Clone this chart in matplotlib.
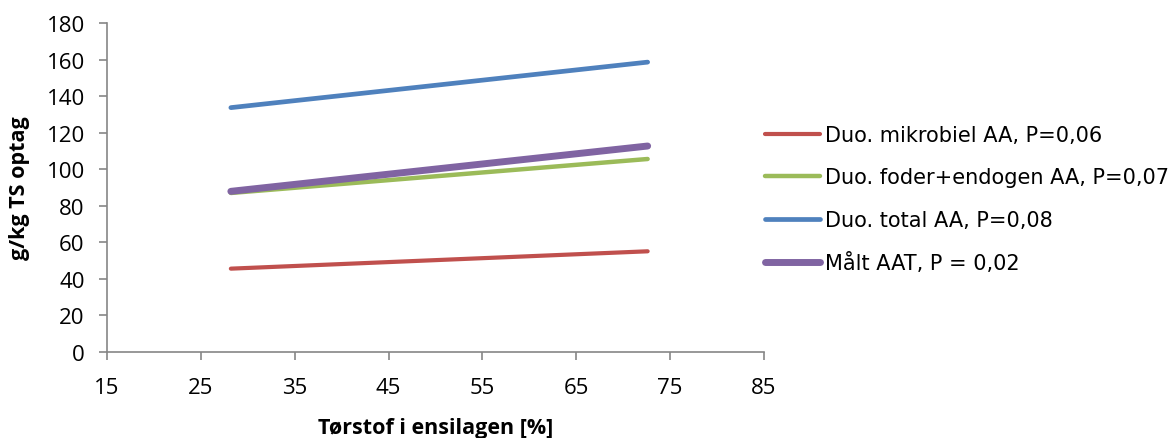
import matplotlib.pyplot as plt

plt.rcParams['font.family'] = ['Open Sans', 'DejaVu Sans']

# x endpoints of the regression lines
x = [28.2, 72.6]
mikrobiel = [45.6, 55.1]
foder_endogen = [87.0, 105.6]
total = [133.7, 158.6]
maalt_aat = [87.9, 112.7]

labels = ['Duo. mikrobiel AA, P=0,06',
          'Duo. foder+endogen AA, P=0,07',
          'Duo. total AA, P=0,08',
          'Målt AAT, P = 0,02']

fig = plt.figure(figsize=(11.74, 4.39), dpi=100)
ax = fig.add_axes([0.0911, 0.1959, 0.5597, 0.7494])

ax.plot(x, mikrobiel, color='#C0504D', lw=3.0, solid_capstyle='round', label=labels[0])
ax.plot(x, foder_endogen, color='#9BBB59', lw=3.2, solid_capstyle='round', label=labels[1])
ax.plot(x, total, color='#4F81BD', lw=3.4, solid_capstyle='round', label=labels[2])
ax.plot(x, maalt_aat, color='#8064A2', lw=5.0, solid_capstyle='round', label=labels[3])

ax.set_xlim(15, 85)
ax.set_ylim(0, 180)
ax.set_xticks(range(15, 86, 10))
ax.set_yticks(range(0, 181, 20))
for s in ['top', 'right']:
    ax.spines[s].set_visible(False)
for s in ['left', 'bottom']:
    ax.spines[s].set_color('#868686')
    ax.spines[s].set_linewidth(1.2)
ax.tick_params(direction='out', length=6, width=1.2, color='#868686', labelsize=16)
ax.tick_params(axis='y', pad=10)
ax.tick_params(axis='x', pad=12)
ax.set_xlabel('Tørstof i ensilagen [%]', fontsize=15.5, fontweight='bold', labelpad=14)
ax.set_ylabel('g/kg TS optag', fontsize=15.5, fontweight='bold', labelpad=12)

fig.legend(loc='center left', bbox_to_anchor=(0.6516, 0.544), frameon=False,
           prop={'family': 'DejaVu Sans', 'size': 15}, borderpad=0, borderaxespad=0,
           handlelength=2.64, handletextpad=0.24, labelspacing=1.08)

fig.savefig('out.png', dpi=100)
